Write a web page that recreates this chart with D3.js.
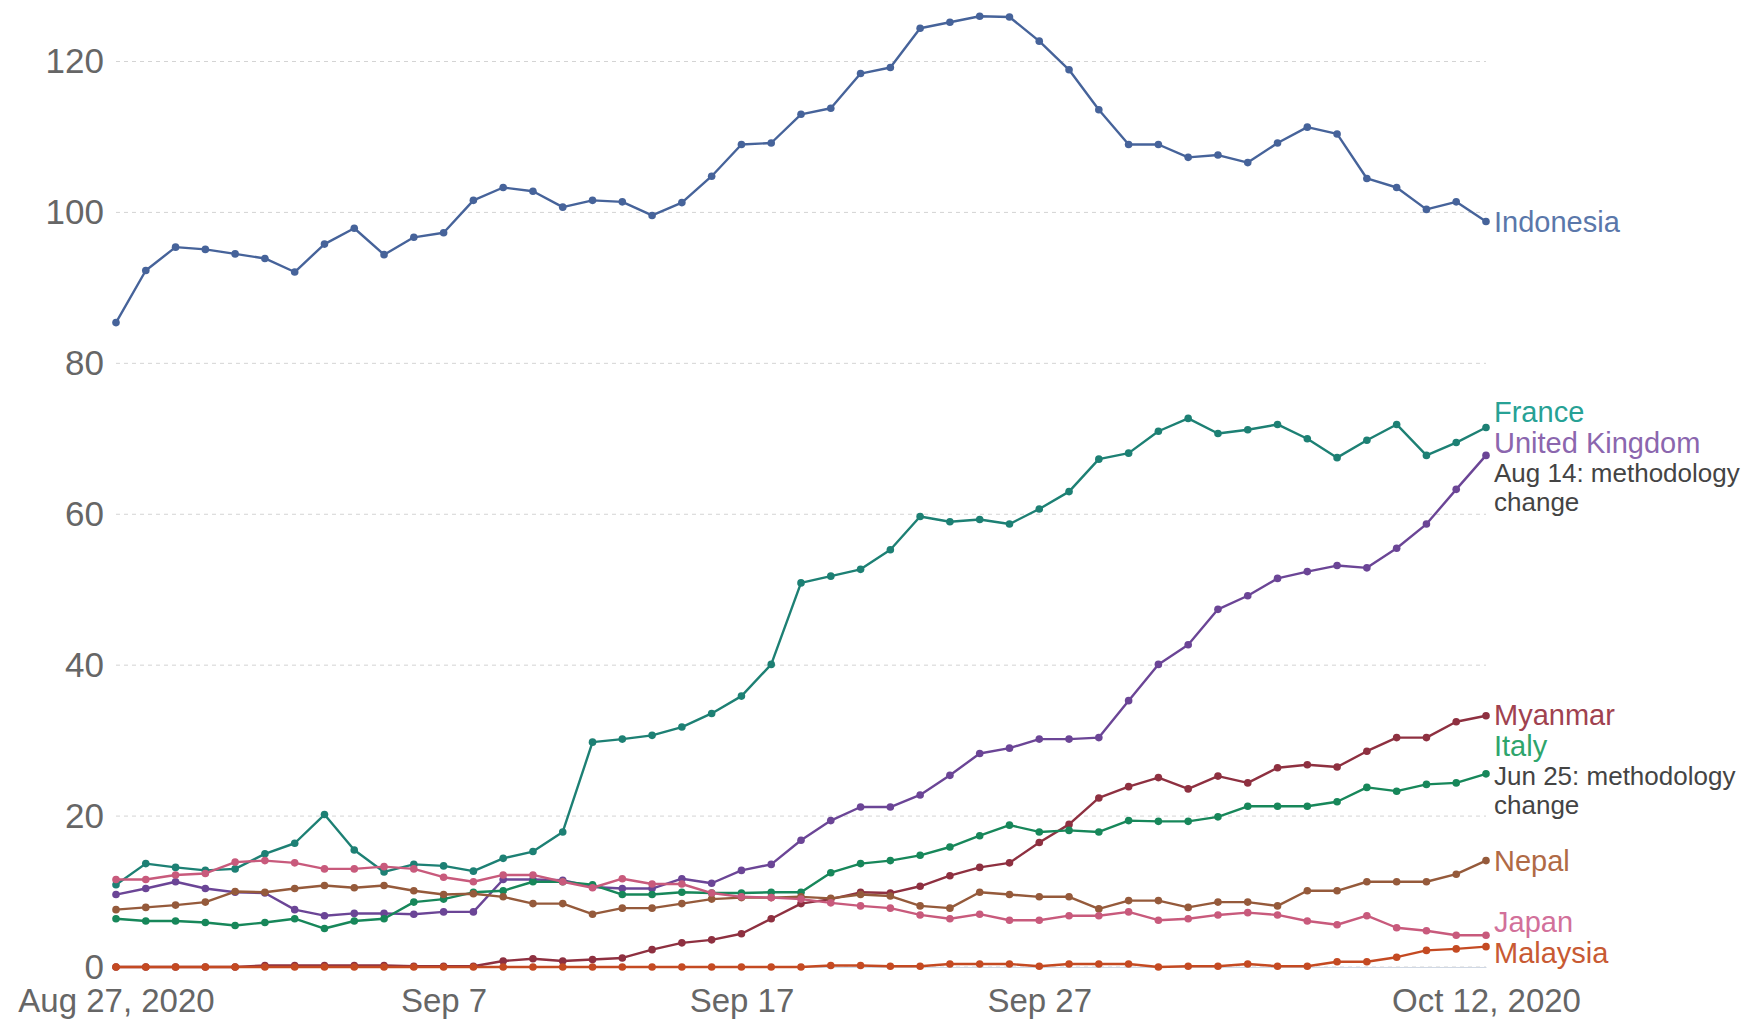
<!DOCTYPE html>
<html>
<head>
<meta charset="utf-8">
<script src="https://cdn.jsdelivr.net/npm/d3@7"></script>
<style>
  body { margin: 0; background: #fff; }
  svg { display: block; font-family: "Liberation Sans", Arial, sans-serif; }
</style>
</head>
<body>
<svg width="1745" height="1021"></svg>
<script>
// daily values from Aug 27, 2020 to Oct 12, 2020
var startDate = "2020-08-27";
var countries = ["Indonesia", "France", "United Kingdom", "Myanmar", "Italy", "Nepal", "Japan", "Malaysia"];

var indonesia = [85.4, 92.3, 95.4, 95.1, 94.5, 93.9, 92.1, 95.8, 97.9, 94.4, 96.7, 97.3, 101.6, 103.3, 102.8, 100.7, 101.6, 101.4, 99.6, 101.3, 104.8, 109.0, 109.2, 113.0, 113.8, 118.4, 119.2, 124.4, 125.2, 126.0, 125.9, 122.7, 118.9, 113.6, 109.0, 109.0, 107.3, 107.6, 106.6, 109.2, 111.3, 110.4, 104.5, 103.3, 100.4, 101.4, 98.8];
var france = [10.9, 13.7, 13.2, 12.8, 13.0, 15.0, 16.4, 20.2, 15.5, 12.6, 13.6, 13.4, 12.7, 14.4, 15.3, 17.9, 29.8, 30.2, 30.7, 31.8, 33.6, 35.9, 40.1, 50.9, 51.8, 52.7, 55.3, 59.7, 59.0, 59.3, 58.7, 60.7, 63.0, 67.3, 68.1, 71.0, 72.7, 70.7, 71.2, 71.9, 70.0, 67.5, 69.8, 71.9, 67.8, 69.5, 71.5];
var unitedKingdom = [9.6, 10.4, 11.3, 10.4, 9.9, 9.8, 7.6, 6.8, 7.1, 7.1, 7.0, 7.3, 7.3, 11.6, 11.6, 11.5, 10.6, 10.4, 10.4, 11.7, 11.1, 12.8, 13.6, 16.8, 19.4, 21.2, 21.2, 22.8, 25.4, 28.3, 29.0, 30.2, 30.2, 30.4, 35.3, 40.1, 42.7, 47.4, 49.2, 51.5, 52.4, 53.2, 52.9, 55.5, 58.7, 63.3, 67.8];
var myanmar = [0, 0, 0, 0, 0, 0.2, 0.2, 0.2, 0.2, 0.2, 0.1, 0.1, 0.1, 0.8, 1.1, 0.8, 1.0, 1.2, 2.3, 3.2, 3.6, 4.4, 6.4, 8.4, 9.0, 9.9, 9.8, 10.7, 12.1, 13.2, 13.8, 16.5, 18.9, 22.4, 23.9, 25.1, 23.6, 25.3, 24.4, 26.4, 26.8, 26.5, 28.6, 30.4, 30.4, 32.5, 33.3];
var italy = [6.4, 6.1, 6.1, 5.9, 5.5, 5.9, 6.4, 5.1, 6.1, 6.4, 8.6, 9.0, 9.9, 10.1, 11.3, 11.3, 10.9, 9.6, 9.6, 9.9, 9.8, 9.8, 9.9, 9.9, 12.5, 13.7, 14.1, 14.8, 15.9, 17.4, 18.8, 17.9, 18.1, 17.9, 19.4, 19.3, 19.3, 19.9, 21.3, 21.3, 21.3, 21.9, 23.8, 23.3, 24.2, 24.4, 25.6];
var nepal = [7.6, 7.9, 8.2, 8.6, 10.0, 9.9, 10.4, 10.8, 10.5, 10.8, 10.1, 9.6, 9.7, 9.3, 8.4, 8.4, 7.0, 7.8, 7.8, 8.4, 9.0, 9.2, 9.2, 9.3, 9.1, 9.6, 9.4, 8.1, 7.8, 9.9, 9.6, 9.3, 9.3, 7.7, 8.8, 8.8, 7.9, 8.6, 8.6, 8.1, 10.1, 10.1, 11.3, 11.3, 11.3, 12.3, 14.1];
var japan = [11.6, 11.6, 12.2, 12.4, 13.9, 14.1, 13.8, 13.0, 13.0, 13.3, 13.0, 11.9, 11.3, 12.2, 12.2, 11.3, 10.5, 11.7, 11.0, 11.0, 9.8, 9.3, 9.2, 9.0, 8.5, 8.1, 7.8, 6.9, 6.4, 7.0, 6.2, 6.2, 6.8, 6.8, 7.3, 6.2, 6.4, 6.9, 7.2, 6.9, 6.1, 5.6, 6.8, 5.2, 4.8, 4.2, 4.2];
var malaysia = [0, 0, 0, 0, 0, 0, 0, 0, 0, 0, 0, 0, 0, 0, 0, 0, 0, 0, 0, 0, 0, 0, 0, 0, 0.2, 0.2, 0.1, 0.1, 0.4, 0.4, 0.4, 0.1, 0.4, 0.4, 0.4, 0.0, 0.1, 0.1, 0.4, 0.1, 0.1, 0.7, 0.7, 1.3, 2.2, 2.4, 2.7];

var yTicks = [0, 20, 40, 60, 80, 100, 120];
var xTickDates = ["2020-08-27", "2020-09-07", "2020-09-17", "2020-09-27", "2020-10-12"];
var xTickLabels = ["Aug 27, 2020", "Sep 7", "Sep 17", "Sep 27", "Oct 12, 2020"];
var notes = {
  "United Kingdom": ["Aug 14: methodology", "change"],
  "Italy": ["Jun 25: methodology", "change"]
};

var values = {
  "Indonesia": indonesia,
  "France": france,
  "United Kingdom": unitedKingdom,
  "Myanmar": myanmar,
  "Italy": italy,
  "Nepal": nepal,
  "Japan": japan,
  "Malaysia": malaysia
};
var lineColors = {
  "Indonesia": "#46639a",
  "France": "#1d8074",
  "United Kingdom": "#6b4596",
  "Myanmar": "#8e3040",
  "Italy": "#17875a",
  "Nepal": "#955a3b",
  "Japan": "#c85a7c",
  "Malaysia": "#c44a22"
};
var labelColors = {
  "Indonesia": "#5a77aa",
  "France": "#27a195",
  "United Kingdom": "#8b66ae",
  "Myanmar": "#a0424f",
  "Italy": "#2ea56c",
  "Nepal": "#b06a45",
  "Japan": "#d2709a",
  "Malaysia": "#c85a33"
};

var svg = d3.select("svg");
var parse = d3.timeParse("%Y-%m-%d");
var start = parse(startDate);
var dayAt = function(i) { return d3.timeDay.offset(start, i); };

var x = d3.scaleTime()
      .domain([start, dayAt(indonesia.length - 1)])
      .range([116, 1486]);
var y = d3.scaleLinear()
      .domain([0, 120])
      .range([967, 61.5]);

// dashed grid
svg.append("g")
  .selectAll("line")
  .data(yTicks)
  .join("line")
    .attr("x1", x.range()[0])
    .attr("x2", x.range()[1])
    .attr("y1", function(d) { return y(d); })
    .attr("y2", function(d) { return y(d); })
    .attr("stroke", "#d4d4d4")
    .attr("stroke-width", 1)
    .attr("stroke-dasharray", "4,4");

var yAxis = svg.append("g")
      .attr("transform", "translate(104,0)")
      .call(d3.axisLeft(y).tickValues(yTicks).tickSize(0).tickPadding(0));
yAxis.attr("font-size", 35).attr("font-family", null);
yAxis.select(".domain").remove();
yAxis.selectAll("text").attr("fill", "#666");

var xAxis = svg.append("g")
      .attr("transform", "translate(0," + y(0) + ")")
      .call(d3.axisBottom(x)
            .tickValues(xTickDates.map(parse))
            .tickFormat(function(d, i) { return xTickLabels[i]; })
            .tickSize(0)
            .tickPadding(22));
xAxis.attr("font-size", 33).attr("font-family", null);
xAxis.select(".domain").attr("stroke", "#d0d8e4");
xAxis.selectAll("text").attr("fill", "#666");

var line = d3.line()
      .x(function(d, i) { return x(dayAt(i)); })
      .y(function(d) { return y(d); });

var series = svg.append("g")
      .selectAll("g.series")
      .data(countries)
      .join("g")
        .attr("class", "series");

series.append("path")
  .attr("fill", "none")
  .attr("stroke", function(c) { return lineColors[c]; })
  .attr("stroke-width", 2.4)
  .attr("stroke-linejoin", "round")
  .attr("d", function(c) { return line(values[c]); });

series.each(function(c) {
  d3.select(this).selectAll("circle")
    .data(values[c])
    .join("circle")
      .attr("cx", function(d, i) { return x(dayAt(i)); })
      .attr("cy", function(d) { return y(d); })
      .attr("r", 3.8)
      .attr("fill", lineColors[c]);
});

// end labels, pushed apart where they collide
var nameH = 31, noteH = 29;
var blocks = countries.map(function(c) {
  var v = values[c];
  var n = (notes[c] || []).length;
  return { name: c, target: y(v[v.length - 1]), cy: y(v[v.length - 1]), h: nameH + n * noteH };
}).sort(function(a, b) { return a.target - b.target; });

var minY = 20, maxY = y(0) + 1;
for (var it = 0; it < 300; it++) {
  for (var i = 0; i < blocks.length - 1; i++) {
    var a = blocks[i], b = blocks[i + 1];
    var gap = (b.cy - b.h / 2) - (a.cy + a.h / 2);
    if (gap < 0) {
      a.cy += gap / 2;
      b.cy -= gap / 2;
    }
  }
  blocks.forEach(function(bk) {
    bk.cy = Math.max(minY + bk.h / 2, Math.min(maxY - bk.h / 2, bk.cy));
  });
}

var labelX = x.range()[1] + 8;
var labels = svg.append("g")
      .selectAll("g.label")
      .data(blocks)
      .join("g")
        .attr("class", "label")
        .attr("transform", function(d) { return "translate(" + labelX + "," + (d.cy - d.h / 2) + ")"; });

labels.append("text")
  .attr("y", nameH / 2)
  .attr("dy", "0.35em")
  .attr("font-size", 29)
  .attr("fill", function(d) { return labelColors[d.name]; })
  .text(function(d) { return d.name; });

labels.each(function(d) {
  d3.select(this).selectAll("text.note")
    .data(notes[d.name] || [])
    .join("text")
      .attr("class", "note")
      .attr("y", function(t, i) { return nameH + noteH * (i + 0.5); })
      .attr("dy", "0.35em")
      .attr("font-size", 26)
      .attr("fill", "#444")
      .text(function(t) { return t; });
});
</script>
</body>
</html>
